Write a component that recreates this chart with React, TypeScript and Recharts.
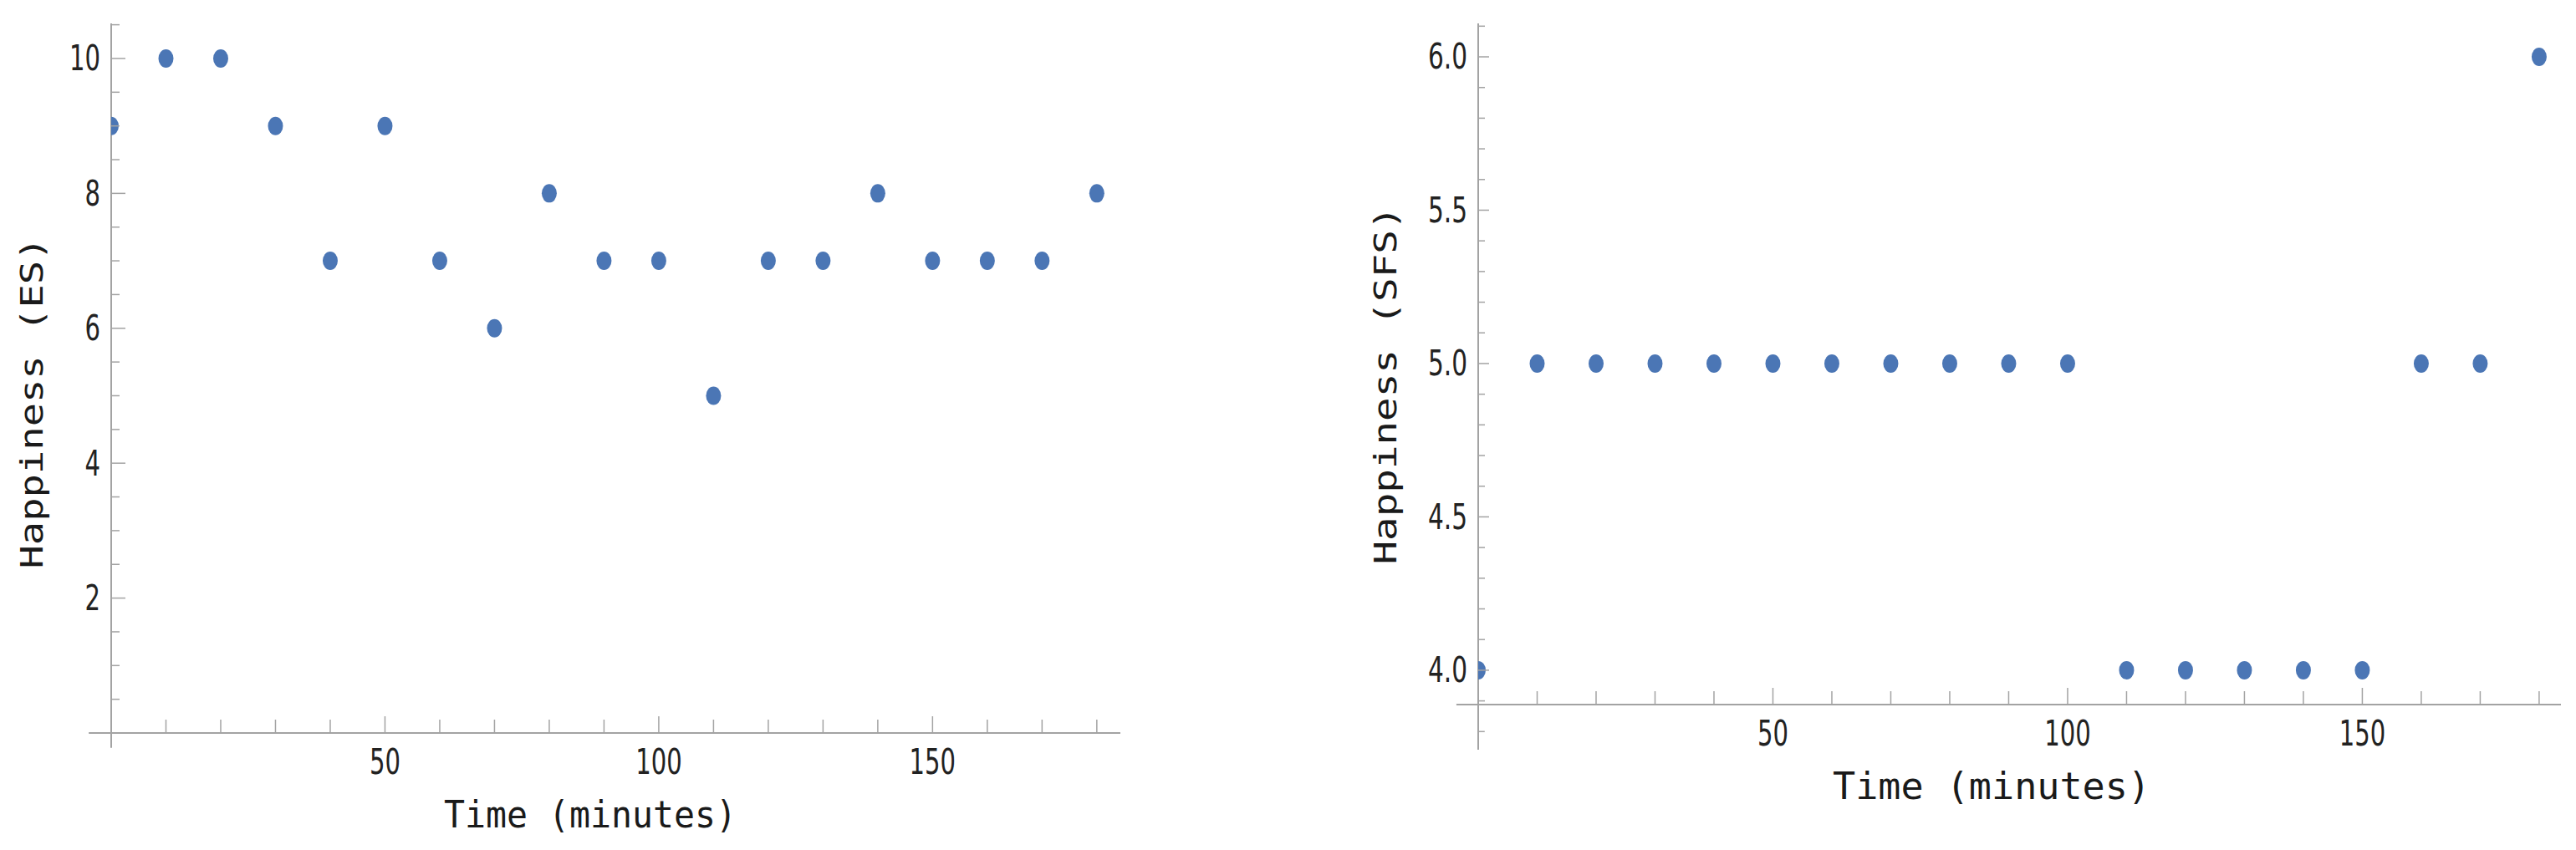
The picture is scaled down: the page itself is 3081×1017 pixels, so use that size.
import React from "react";
import { ScatterChart, Scatter, XAxis, YAxis, ReferenceLine } from "recharts";

// time points (minutes)
const TIMES = [0, 10, 20, 30, 40, 50, 60, 70, 80, 90, 100, 110, 120, 130, 140, 150, 160, 170, 180];
// happiness scores
const ES_VALUES = [9, 10, 10, 9, 7, 9, 7, 6, 8, 7, 7, 5, 7, 7, 8, 7, 7, 7, 8];
const SFS_VALUES = [4, 5, 5, 5, 5, 5, 5, 5, 5, 5, 5, 4, 4, 4, 4, 4, 5, 5, 6];

// axis ticks
const X_TICKS = [10, 20, 30, 40, 50, 60, 70, 80, 90, 100, 110, 120, 130, 140, 150, 160, 170, 180];
const X_LABELED = [50, 100, 150];
const ES_Y_TICKS = [0.5, 1, 1.5, 2, 2.5, 3, 3.5, 4, 4.5, 5, 5.5, 6, 6.5, 7, 7.5, 8, 8.5, 9, 9.5, 10, 10.5];
const ES_Y_LABELED = [2, 4, 6, 8, 10];
const SFS_Y_TICKS = [3.9, 4, 4.1, 4.2, 4.3, 4.4, 4.5, 4.6, 4.7, 4.8, 4.9, 5, 5.1, 5.2, 5.3, 5.4, 5.5, 5.6, 5.7, 5.8, 5.9, 6, 6.1];
const SFS_Y_LABELED = [4, 4.5, 5, 5.5, 6];

const esData = TIMES.map((t, i) => ({ t, v: ES_VALUES[i] }));
const sfsData = TIMES.map((t, i) => ({ t, v: SFS_VALUES[i] }));

const AXIS = "#a3a3a3";
const DOT = "#4b76b5";
const TICK_FONT = "'Liberation Sans Narrow', 'DejaVu Sans Condensed', Arial, sans-serif";
const TITLE_FONT = "'DejaVu Sans Mono', 'Liberation Mono', monospace";

const isIn = (list: number[], v: number) => list.some((l) => Math.abs(l - v) < 1e-6);

// narrow tick-label width, Mathematica-style condensed digits
const labelLen = (s: string) => s.split("").reduce((w, c) => w + (c === "." ? 10 : 18.5), 0);

function TickText(props: any) {
  const { x, y, s, anchor, baseline } = props;
  return (
    <text
      x={x}
      y={y}
      textAnchor={anchor}
      dominantBaseline={baseline}
      fontFamily={TICK_FONT}
      fontSize={42}
      fill="#222"
      textLength={labelLen(s)}
      lengthAdjust="spacingAndGlyphs"
    >
      {s}
    </text>
  );
}

function XTick(props: any) {
  const { x, y, payload, labeled } = props;
  const major = isIn(labeled, payload.value);
  return (
    <g>
      <line x1={x} x2={x} y1={y} y2={y - (major ? 20 : 16)} stroke={AXIS} strokeWidth={1.5} />
      {major && <TickText x={x} y={y + 49} s={String(payload.value)} anchor="middle" />}
    </g>
  );
}

function YTick(props: any) {
  const { x, y, payload, labeled, majorLen, minorLen, digits } = props;
  const major = isIn(labeled, payload.value);
  return (
    <g>
      <line x1={x} x2={x + (major ? majorLen : minorLen)} y1={y} y2={y} stroke={AXIS} strokeWidth={1.5} />
      {major && <TickText x={x - 13} y={y} s={payload.value.toFixed(digits)} anchor="end" baseline="central" />}
    </g>
  );
}

function Dot(props: any) {
  const { cx, cy } = props;
  return <ellipse cx={cx} cy={cy} rx={9} ry={11} fill={DOT} />;
}

function Title(props: any) {
  const { px, py, text, len, rotate } = props;
  return (
    <text
      x={px}
      y={py}
      textAnchor="middle"
      fontFamily={TITLE_FONT}
      fontSize={rotate ? 38 : 45}
      fill="#1a1a1a"
      textLength={len}
      lengthAdjust="spacingAndGlyphs"
      transform={rotate ? `rotate(-90 ${px} ${py})` : undefined}
    >
      {text}
    </text>
  );
}

function Panel(props: any) {
  const { width, data, margin, xMax, yDomain, yTicks, yLabeled, majorLen, minorLen, digits, axisExt, xTitle, yTitle, extraTick } = props;
  const [y0, y1] = yDomain;
  return (
    <ScatterChart width={width} height={1017} margin={margin}>
      <XAxis
        type="number"
        dataKey="t"
        domain={[0, xMax]}
        allowDataOverflow
        ticks={X_TICKS}
        interval={0}
        axisLine={false}
        tickLine={false}
        tickSize={0}
        tickMargin={0}
        height={30}
        tick={(p: any) => <XTick {...p} labeled={X_LABELED} />}
        label={<Title {...xTitle} />}
      />
      <YAxis
        type="number"
        dataKey="v"
        domain={[y0, y1]}
        allowDataOverflow
        ticks={yTicks}
        interval={0}
        axisLine={false}
        tickLine={false}
        tickSize={0}
        tickMargin={0}
        width={60}
        tick={(p: any) => <YTick {...p} labeled={yLabeled} majorLen={majorLen} minorLen={minorLen} digits={digits} />}
        label={<Title {...yTitle} rotate />}
      />
      <ReferenceLine
        segment={[{ x: axisExt.xLeft, y: y0 }, { x: xMax, y: y0 }]}
        stroke={AXIS}
        strokeWidth={2}
        ifOverflow="visible"
      />
      <ReferenceLine
        segment={[{ x: 0, y: axisExt.yBottom }, { x: 0, y: y1 }]}
        stroke={AXIS}
        strokeWidth={2}
        ifOverflow="visible"
      />
      {extraTick && (
        <ReferenceLine
          segment={[{ x: 0, y: extraTick }, { x: 1.1, y: extraTick }]}
          stroke={AXIS}
          strokeWidth={1.5}
          ifOverflow="visible"
        />
      )}
      <Scatter data={data} fill={DOT} shape={<Dot />} isAnimationActive={false} />
    </ScatterChart>
  );
}

export default function App() {
  return (
    <div style={{ position: "absolute", left: 0, top: 0, width: 3081, height: 1017, background: "#fff" }}>
      <div style={{ position: "absolute", left: 0, top: 0 }}>
        <Panel
          width={1540}
          data={esData}
          margin={{ top: 28, right: 200, bottom: 110, left: 73 }}
          xMax={184.3}
          yDomain={[0, 10.52]}
          yTicks={ES_Y_TICKS}
          yLabeled={ES_Y_LABELED}
          majorLen={17}
          minorLen={10}
          digits={0}
          axisExt={{ xLeft: -4.1, yBottom: -0.22 }}
          xTitle={{ px: 706, py: 990, text: "Time (minutes)", len: 350 }}
          yTitle={{ px: 51, py: 482, text: "Happiness (ES)", len: 397 }}
        />
      </div>
      <div style={{ position: "absolute", left: 1540, top: 0 }}>
        <Panel
          width={1541}
          data={sfsData}
          margin={{ top: 28, right: 18, bottom: 144, left: 168 }}
          xMax={183.7}
          yDomain={[3.888, 6.109]}
          yTicks={SFS_Y_TICKS}
          yLabeled={SFS_Y_LABELED}
          majorLen={13}
          minorLen={8}
          digits={1}
          axisExt={{ xLeft: -3.7, yBottom: 3.741 }}
          extraTick={3.8}
          xTitle={{ px: 2382 - 1540, py: 956, text: "Time (minutes)", len: 380 }}
          yTitle={{ px: 1670 - 1540, py: 461, text: "Happiness (SFS)", len: 429 }}
        />
      </div>
    </div>
  );
}
